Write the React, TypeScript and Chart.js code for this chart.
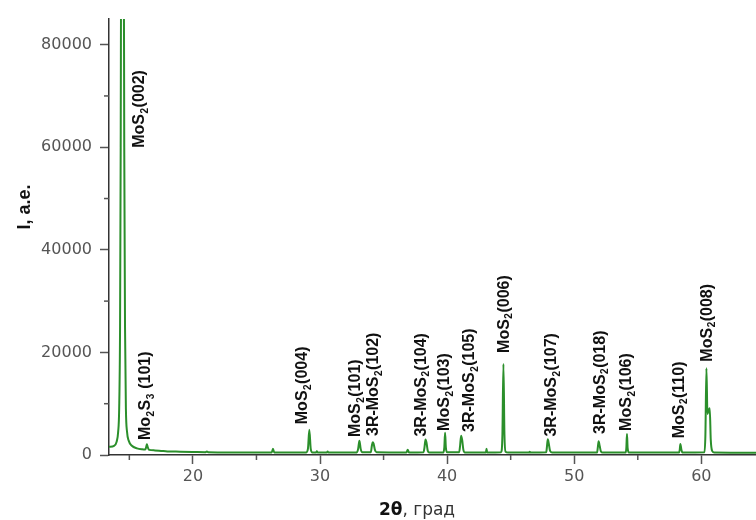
import React, { useEffect, useRef } from 'react';
import { Chart, registerables } from 'chart.js';

Chart.register(...registerables);

const angles = [
  13.4, 13.8, 14.0, 14.12, 14.2, 14.27, 14.32, 14.36, 14.56, 14.6, 14.66, 14.73, 14.82, 14.95, 15.2, 15.6, 16.0,
  16.25, 16.33, 16.38, 16.45, 16.55, 17.0, 17.5, 18.0, 19.0, 20.0, 21.0, 21.1, 21.2, 23.0, 26.2, 26.3, 26.4,
  28.9, 29.05, 29.16, 29.27, 29.4, 29.7, 29.75, 29.8, 30.55, 30.6, 30.65, 32.9, 33.0, 33.1, 33.2, 33.3,
  34.0, 34.08, 34.15, 34.22, 34.32, 34.45, 36.8, 36.9, 37.0, 38.15, 38.22, 38.3, 38.38, 38.48, 38.6,
  39.7, 39.78, 39.84, 39.9, 40.0, 40.95, 41.02, 41.1, 41.18, 41.28, 41.4, 43.05, 43.1, 43.15,
  44.25, 44.35, 44.43, 44.51, 44.6, 44.8, 46.45, 46.5, 46.55, 47.8, 47.86, 47.92, 48.0, 48.1, 48.25,
  51.8, 51.86, 51.92, 52.0, 52.1, 52.25, 54.05, 54.1, 54.15, 54.2, 54.3, 58.25, 58.3, 58.35, 58.42, 58.5,
  60.25, 60.32, 60.4, 60.48, 60.58, 60.66, 60.74, 60.85, 61.0, 64.3,
];
const intensities = [
  1600, 1800, 2600, 4500, 9000, 25000, 60000, 100000, 100000, 60000, 25000, 9000, 4500, 2800, 1800, 1300, 1100,
  1050, 1600, 2100, 1500, 1000, 900, 800, 700, 650, 600, 550, 700, 550, 500, 500, 1200, 500,
  500, 1200, 4900, 1200, 500, 500, 750, 500, 500, 700, 500, 500, 1200, 2800, 1200, 550,
  550, 1800, 2500, 2200, 1000, 550, 500, 1000, 500, 550, 1500, 3000, 2400, 800, 500,
  500, 1500, 4350, 1500, 550, 550, 1800, 3750, 3000, 1000, 500, 500, 1200, 500,
  550, 4000, 17750, 4000, 650, 500, 500, 650, 500, 550, 1800, 3050, 2200, 800, 500,
  500, 1600, 2700, 1800, 700, 500, 500, 1400, 4100, 1400, 500, 500, 1000, 2150, 1200, 500,
  550, 4000, 16900, 8000, 8800, 9100, 3000, 800, 500, 450,
];

// Peak annotations: text ("_x" = subscript), 2θ of the label, intensity where the text starts
const peakLabelTexts = [
  'MoS_2(002)', 'Mo_2S_3 (101)', 'MoS_2(004)', 'MoS_2(101)', '3R-MoS_2(102)', '3R-MoS_2(104)', 'MoS_2(103)',
  '3R-MoS_2(105)', 'MoS_2(006)', '3R-MoS_2(107)', '3R-MoS_2(018)', 'MoS_2(106)', 'MoS_2(110)', 'MoS_2(008)',
];
const peakLabelAngles = [15.83, 16.3, 28.66, 32.83, 34.25, 38.0, 39.84, 41.8, 44.5, 48.24, 52.05, 54.15, 58.3, 60.5];
const peakLabelIntensities = [59900, 2900, 6000, 3500, 3700, 3600, 4700, 4500, 19900, 3600, 4100, 4700, 3250, 18200];

const xMajorTicks = [20, 30, 40, 50, 60];
const xMinorTicks = [15, 25, 35, 45, 55];
const yMajorTicks = [0, 20000, 40000, 60000, 80000];
const yMinorTicks = [10000, 30000, 50000, 70000];

const xTitleBold = '2θ';
const xTitleRest = ', град';
const yTitle = 'I, a.e.';

const LABEL_FONT = 'bold 16px "Liberation Sans", Arial, sans-serif';
const SUB_FONT = 'bold 10px "Liberation Sans", Arial, sans-serif';

function drawRich(ctx: CanvasRenderingContext2D, text: string, x: number, y: number) {
  ctx.save();
  ctx.translate(x, y);
  ctx.rotate(-Math.PI / 2);
  ctx.textAlign = 'left';
  ctx.textBaseline = 'middle';
  ctx.fillStyle = '#111';
  let cx = 0;
  let run = '';
  const flush = () => {
    if (!run) return;
    ctx.font = LABEL_FONT;
    ctx.fillText(run, cx, 0);
    cx += ctx.measureText(run).width;
    run = '';
  };
  for (let i = 0; i < text.length; i++) {
    if (text[i] === '_' && i + 1 < text.length) {
      flush();
      const c = text[i + 1];
      ctx.font = SUB_FONT;
      ctx.fillText(c, cx + 0.5, 5);
      cx += ctx.measureText(c).width + 1;
      i++;
    } else {
      run += text[i];
    }
  }
  flush();
  ctx.restore();
}

const decorPlugin = {
  id: 'decor',
  afterDraw(chart: any) {
    const ctx: CanvasRenderingContext2D = chart.ctx;
    const xs = chart.scales.x;
    const ys = chart.scales.y;
    const area = chart.chartArea;
    ctx.save();
    // minor ticks
    ctx.strokeStyle = '#555';
    ctx.lineWidth = 1.5;
    xMinorTicks.forEach((v) => {
      const px = xs.getPixelForValue(v);
      ctx.beginPath();
      ctx.moveTo(px, area.bottom);
      ctx.lineTo(px, area.bottom + 5);
      ctx.stroke();
    });
    yMinorTicks.forEach((v) => {
      const py = ys.getPixelForValue(v);
      ctx.beginPath();
      ctx.moveTo(area.left, py);
      ctx.lineTo(area.left - 5, py);
      ctx.stroke();
    });
    // peak labels
    peakLabelTexts.forEach((t, i) => {
      drawRich(ctx, t, xs.getPixelForValue(peakLabelAngles[i]), ys.getPixelForValue(peakLabelIntensities[i]));
    });
    // y title
    ctx.save();
    ctx.translate(25, 207);
    ctx.rotate(-Math.PI / 2);
    ctx.font = 'bold 18px "Liberation Sans", Arial, sans-serif';
    ctx.fillStyle = '#111';
    ctx.textAlign = 'center';
    ctx.textBaseline = 'middle';
    ctx.fillText(yTitle, 0, 0);
    ctx.restore();
    // x title
    const boldFont = 'bold 17px "DejaVu Sans", sans-serif';
    const regFont = '17px "DejaVu Sans", sans-serif';
    ctx.font = boldFont;
    const w1 = ctx.measureText(xTitleBold).width;
    ctx.font = regFont;
    const w2 = ctx.measureText(xTitleRest).width;
    const startX = 417 - (w1 + w2) / 2;
    ctx.textBaseline = 'alphabetic';
    ctx.textAlign = 'left';
    ctx.font = boldFont;
    ctx.fillStyle = '#111';
    ctx.fillText(xTitleBold, startX, 515);
    ctx.font = regFont;
    ctx.fillStyle = '#333';
    ctx.fillText(xTitleRest, startX + w1, 515);
    ctx.restore();
  },
};

export default function App() {
  const ref = useRef<HTMLCanvasElement | null>(null);
  useEffect(() => {
    if (!ref.current) return;
    const chart = new Chart(ref.current, {
      type: 'line',
      data: {
        datasets: [
          {
            data: angles.map((a, i) => ({ x: a, y: intensities[i] })),
            borderColor: '#2b8f2b',
            borderWidth: 2,
            pointRadius: 0,
            cubicInterpolationMode: 'monotone',
            fill: false,
          },
        ],
      },
      options: {
        responsive: false,
        animation: false,
        events: [],
        layout: { padding: { top: 19, right: 0, left: 0, bottom: 0 } },
        plugins: { legend: { display: false }, tooltip: { enabled: false }, title: { display: false } },
        scales: {
          x: {
            type: 'linear',
            min: 13.4,
            max: 64.3,
            afterFit: (s: any) => { s.height = 65; },
            afterBuildTicks: (s: any) => { s.ticks = xMajorTicks.map((v) => ({ value: v })); },
            ticks: {
              includeBounds: false,
              autoSkip: false,
              maxRotation: 0,
              padding: 3,
              color: '#555',
              font: { family: '"DejaVu Sans", sans-serif', size: 16 },
              callback: (v: any) => String(v),
            },
            grid: { drawOnChartArea: false, tickLength: 9, tickColor: '#555', tickWidth: 1.5 },
            border: { display: true, color: '#333', width: 1.5 },
          },
          y: {
            type: 'linear',
            min: 0,
            max: 85000,
            afterFit: (s: any) => { s.width = 109; },
            afterBuildTicks: (s: any) => { s.ticks = yMajorTicks.map((v) => ({ value: v })); },
            ticks: {
              includeBounds: false,
              padding: 8,
              color: '#555',
              font: { family: '"DejaVu Sans", sans-serif', size: 16 },
              callback: (v: any) => String(v),
            },
            grid: { drawOnChartArea: false, tickLength: 9, tickColor: '#555', tickWidth: 1.5 },
            border: { display: true, color: '#333', width: 1.5 },
          },
        },
      } as any,
      plugins: [decorPlugin],
    });
    return () => chart.destroy();
  }, []);
  return (
    <div style={{ position: 'absolute', left: 0, top: 0, width: 756, height: 520, background: '#fff' }}>
      <canvas ref={ref} width={756} height={520} style={{ display: 'block' }} />
    </div>
  );
}
